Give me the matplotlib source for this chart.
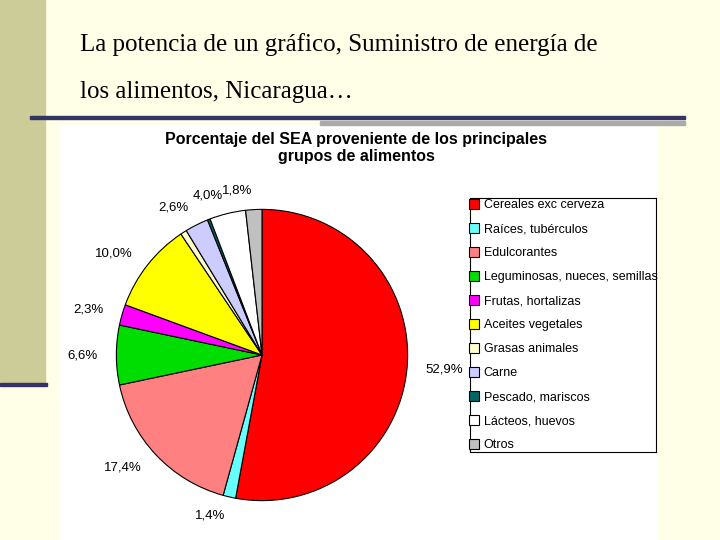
import matplotlib
matplotlib.use("Agg")
import matplotlib.pyplot as plt
from matplotlib.patches import Rectangle

categories = ["Cereales exc cerveza", "Raíces, tubérculos", "Edulcorantes",
              "Leguminosas, nueces, semillas", "Frutas, hortalizas", "Aceites vegetales",
              "Grasas animales", "Carne", "Pescado, mariscos", "Lácteos, huevos", "Otros"]
values = [52.9, 1.4, 17.4, 6.6, 2.3, 10.0, 0.7, 2.6, 0.3, 4.0, 1.8]
labels = ["52,9%", "1,4%", "17,4%", "6,6%", "2,3%", "10,0%", "", "2,6%", "", "4,0%", "1,8%"]
colors = ["#FF0000", "#66FFFF", "#FF8080", "#00DD00", "#FF00FF", "#FFFF00",
          "#FFFFCC", "#CCCCFF", "#006666", "#FFFFFF", "#C0C0C0"]

W, H = 720, 540
fig = plt.figure(figsize=(7.2, 5.4), dpi=100)
fig.patch.set_facecolor("#FFFFE8")

def px(x, y, w, h):
    return [x / W, 1 - (y + h) / H, w / W, h / H]

def rect(x, y, w, h, c):
    fig.patches.append(Rectangle((x / W, 1 - (y + h) / H), w / W, h / H,
                                 transform=fig.transFigure, color=c, zorder=-5))

rect(0, 0, 45, 385, "#CCCC99")
rect(0, 383, 47, 3, "#333366")
rect(60, 125, 597, 415, "white")
rect(320, 121, 365, 4, "#AAAAAA")
rect(30, 116, 655, 3, "#333366")

fig.text(80 / W, 1 - 45 / H, "La potencia de un gráfico, Suministro de energía de",
         family="Liberation Serif", fontsize=18, va="center")
fig.text(80 / W, 1 - 92 / H, "los alimentos, Nicaragua\u2026",
         family="Liberation Serif", fontsize=18, va="center")
fig.text(356 / W, 1 - 148 / H, "Porcentaje del SEA proveniente de los principales\ngrupos de alimentos",
         ha="center", va="center", fontsize=11.5, fontweight="bold", family="Liberation Sans", linespacing=1.1)

ax = fig.add_axes(px(262 - 150, 355 - 150, 300, 300))
wedges, texts = ax.pie(values, colors=colors, startangle=90, counterclock=False,
                       labels=labels, labeldistance=1.13,
                       wedgeprops=dict(edgecolor="black", linewidth=0.8),
                       textprops=dict(fontsize=9.5, family="Liberation Sans"))
ax.set_xlim(-1.03, 1.03); ax.set_ylim(-1.03, 1.03)
ax.set_aspect("equal")

lax = fig.add_axes(px(470, 198, 186, 254))
lax.set_xticks([]); lax.set_yticks([])
lax.set_xlim(0, 1); lax.set_ylim(0, 1)
leg = lax.legend(wedges, categories, loc="center", frameon=False,
                 prop=dict(family="Liberation Sans", size=9), labelspacing=0.95,
                 handlelength=0.8, handleheight=0.8, handletextpad=0.4, borderaxespad=0)
for s in lax.spines.values():
    s.set_linewidth(0.8)

fig.savefig("out.png", dpi=100, facecolor=fig.get_facecolor())
